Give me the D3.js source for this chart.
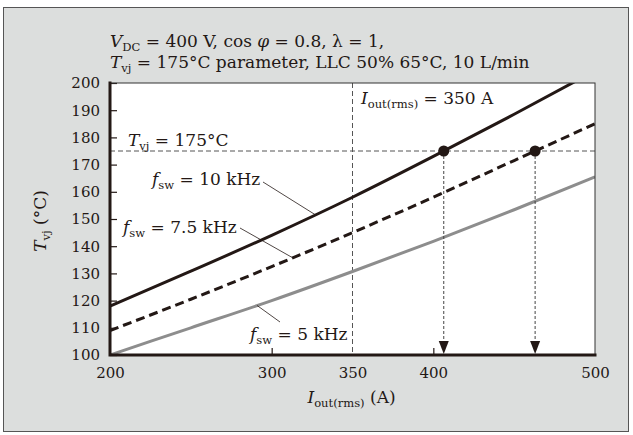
<!DOCTYPE html>
<html><head><meta charset="utf-8">
<script src="https://cdn.jsdelivr.net/npm/d3@7"></script>
<style>body{margin:0;background:#fff}</style>
</head><body>
<svg id="c" width="633" height="435"></svg>
<script>
// ---- data ----
const currents = [200, 250, 300, 350, 400, 450, 500];
const tvj10k  = [118, 130.8, 144, 158, 173, 188.5, 204.5];
const tvj7k5  = [109, 120.5, 132.5, 145, 158, 171.5, 185];
const tvj5k   = [100, 110, 120, 130.7, 141.8, 153.4, 165.5];
const xTickValues = [200, 300, 350, 400, 500];
const yTickValues = [100, 110, 120, 130, 140, 150, 160, 170, 180, 190, 200];
const limitTemp = 175;
const refCurrent = 350;

const FONT = "'DejaVu Serif', serif";
const INK = "#231815";
const svg = d3.select("#c");
const m = {l: 110, r: 595, t: 83, b: 355};

// frame
svg.append("rect").attr("x", 3.5).attr("y", 7.5).attr("width", 625).attr("height", 424)
  .attr("fill", "#dcdedd").attr("stroke", "#555").attr("stroke-width", 1);

const x = d3.scaleLinear().domain([200, 500]).range([m.l, m.r]);
const y = d3.scaleLinear().domain([100, 200]).range([m.b, m.t]);

// plot background
svg.append("rect").attr("x", m.l).attr("y", m.t).attr("width", m.r - m.l).attr("height", m.b - m.t)
  .attr("fill", "#fff");

svg.append("clipPath").attr("id", "clip").append("rect")
  .attr("x", m.l).attr("y", m.t).attr("width", m.r - m.l).attr("height", m.b - m.t);

// rich text helper
function rich(sel, parts, size) {
  let sub = false;
  const sh = size * 0.24;
  parts.forEach(([t, k]) => {
    const ts = sel.append("tspan").text(t);
    const isSub = k.includes("s");
    if (k.includes("i")) ts.attr("font-style", "italic");
    if (isSub) ts.attr("font-size", size * 0.68);
    if (isSub && !sub) ts.attr("dy", sh);
    if (!isSub && sub) ts.attr("dy", -sh);
    sub = isSub;
  });
}
function label(px, py, parts, size, anchor) {
  const t = svg.append("text").attr("x", px).attr("y", py)
    .attr("font-family", FONT).attr("font-size", size).attr("fill", INK)
    .attr("text-anchor", anchor || "start");
  rich(t, parts, size);
  return t;
}

// reference dashed lines
svg.append("line").attr("x1", m.l).attr("x2", m.r).attr("y1", y(limitTemp)).attr("y2", y(limitTemp))
  .attr("stroke", "#555").attr("stroke-width", 1).attr("stroke-dasharray", "5,3");
svg.append("line").attr("x1", x(refCurrent)).attr("x2", x(refCurrent)).attr("y1", m.t).attr("y2", m.b)
  .attr("stroke", "#555").attr("stroke-width", 1).attr("stroke-dasharray", "5,3");

// curves
const series = [
  {vals: tvj5k,  color: "#8d8d8d", dash: null},
  {vals: tvj7k5, color: INK, dash: "9,5"},
  {vals: tvj10k, color: INK, dash: null},
];
const line = d3.line().x(d => x(d[0])).y(d => y(d[1])).curve(d3.curveMonotoneX);
const g = svg.append("g").attr("clip-path", "url(#clip)");
series.forEach(s => {
  g.append("path").datum(currents.map((c, i) => [c, s.vals[i]]))
    .attr("d", line).attr("fill", "none").attr("stroke", s.color)
    .attr("stroke-width", 3).attr("stroke-dasharray", s.dash);
});

// crossing points with the limit temperature
function crossing(vals) {
  for (let i = 1; i < vals.length; i++) {
    if (vals[i - 1] <= limitTemp && vals[i] >= limitTemp) {
      const f = (limitTemp - vals[i - 1]) / (vals[i] - vals[i - 1]);
      return currents[i - 1] + f * (currents[i] - currents[i - 1]);
    }
  }
  return null;
}
[tvj10k, tvj7k5].forEach(vals => {
  const c = crossing(vals);
  const cx = x(c);
  svg.append("line").attr("x1", cx).attr("x2", cx).attr("y1", y(limitTemp)).attr("y2", m.b - 12)
    .attr("stroke", "#444").attr("stroke-width", 1).attr("stroke-dasharray", "3,2");
  svg.append("path").attr("d", `M${cx - 5},${m.b - 14}L${cx + 5},${m.b - 14}L${cx},${m.b - 1}Z`)
    .attr("fill", INK);
  svg.append("circle").attr("cx", cx).attr("cy", y(limitTemp)).attr("r", 5.5).attr("fill", INK);
});

// axes
const yAxis = d3.axisLeft(y).tickValues(yTickValues).tickSize(-7).tickPadding(10);
const ya = svg.append("g").attr("transform", `translate(${m.l},0)`).call(yAxis);
const xAxis = d3.axisBottom(x).tickValues(xTickValues).tickSize(-7).tickPadding(12);
const xa = svg.append("g").attr("transform", `translate(0,${m.b})`).call(xAxis);
[ya, xa].forEach(a => {
  a.select(".domain").remove();
  a.selectAll("text").attr("font-family", FONT).attr("font-size", 15).attr("fill", INK);
  a.selectAll("line").attr("stroke", INK).attr("stroke-width", 1.2);
});
xa.selectAll(".tick").filter(d => d === 350 || d === 200 || d === 500).select("line").remove();
// plot borders
svg.append("rect").attr("x", m.l).attr("y", m.t).attr("width", m.r - m.l).attr("height", m.b - m.t)
  .attr("fill", "none").attr("stroke", "#333").attr("stroke-width", 1);
svg.append("path").attr("d", `M${m.l},${m.t}V${m.b}H${m.r}`).attr("fill", "none")
  .attr("stroke", INK).attr("stroke-width", 3).attr("stroke-linecap", "square");

// title
label(110, 47, [["V", "i"], ["DC", "s"], [" = 400 V, cos ", ""], ["φ", "i"], [" = 0.8, λ = 1,", ""]], 17);
label(110, 68, [["T", "i"], ["vj", "s"], [" = 175°C parameter, LLC 50% 65°C, 10 L/min", ""]], 17);

// annotations
label(128, 146, [["T", "i"], ["vj", "s"], [" = 175°C", ""]], 17);
label(361, 104, [["I", "i"], ["out(rms)", "s"], [" = 350 A", ""]], 17);
label(152, 185, [["f", "i"], ["sw", "s"], [" = 10 kHz", ""]], 17);
label(123, 233, [["f", "i"], ["sw", "s"], [" = 7.5 kHz", ""]], 17);
label(250, 340, [["f", "i"], ["sw", "s"], [" = 5 kHz", ""]], 17);

// leader lines (anchored on the curves)
function leader(x1, y1, cur, vals) {
  const tv = d3.scaleLinear().domain(currents).range(vals)(cur);
  svg.append("line").attr("x1", x1).attr("y1", y1).attr("x2", x(cur)).attr("y2", y(tv))
    .attr("stroke", INK).attr("stroke-width", 0.8);
}
leader(263, 182, 327, tvj10k);
leader(240, 228, 313, tvj7k5);
leader(280, 322, 291, tvj5k);

// axis titles
label((m.l + m.r) / 2 - 1, 403, [["I", "i"], ["out(rms)", "s"], [" (A)", ""]], 17, "middle");
const yl = label(0, 0, [["T", "i"], ["vj", "s"], [" (°C)", ""]], 17, "middle");
yl.attr("transform", "translate(46,221) rotate(-90)");
</script>
</body></html>
